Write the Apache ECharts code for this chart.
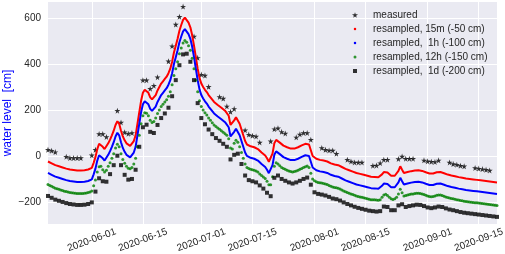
<!DOCTYPE html>
<html>
<head>
<meta charset="utf-8">
<script src="https://cdn.jsdelivr.net/npm/echarts/dist/echarts.min.js"></script>
<style>
  html, body { margin: 0; padding: 0; background: #fff; }
  #chart { width: 505px; height: 254px; }
</style>
</head>
<body>
<div id="chart"></div>
<script>
// water level, 12-hourly from 2020-05-20 00:00 (+50)
const level12h = [
  26, 22, 18, 14, 10, 7, 5, 2, 0, -3, -5, -7, -9, -10, -11, -12, -13, -13, -13, -13,
  -12, -11, -9, -7, -2, 20, 45, 80, 103, 105, 90, 80, 88, 105, 121, 140, 160, 185, 201, 190,
  160, 135, 118, 105, 97, 94, 100, 115, 140, 190, 240, 290, 325, 338, 336, 325, 305, 296, 300, 315,
  335, 350, 365, 375, 385, 395, 410, 430, 460, 500, 530, 560, 595, 620, 642, 652, 645, 630, 610, 575,
  530, 480, 430, 390, 365, 350, 338, 328, 315, 305, 295, 285, 278, 272, 266, 260, 253, 247, 240, 225,
  185, 180, 205, 218, 210, 190, 165, 140, 115, 100, 95, 92, 90, 88, 85, 80, 72, 65, 58, 52,
  40, 25, 25, 60, 105, 120, 115, 108, 100, 95, 92, 88, 85, 82, 80, 82, 85, 88, 92, 96,
  100, 103, 106, 100, 75, 50, 42, 38, 35, 33, 32, 30, 28, 26, 22, 18, 15, 13, 12, 10,
  6, 2, -2, -6, -9, -12, -15, -18, -21, -24, -26, -28, -30, -32, -34, -36, -38, -40, -40, -41,
  -42, -43, -40, -30, -20, -17, -22, -30, -36, -39, -36, -30, -15, 5, -10, -24, -22, -20, -18, -16,
  -15, -13, -12, -12, -13, -15, -18, -21, -24, -26, -27, -26, -24, -21, -20, -20, -22, -25, -28, -31,
  -33, -35, -36, -38, -40, -42, -44, -45, -47, -48, -49, -50, -51, -52, -53, -54, -55, -56, -57, -58,
  -59, -60, -61, -62, -63, -64, -65
];

// measured values (day number since 2020-05-20, level in cm)
const measuredDay = [0, 1, 2, 5, 6, 7, 8, 9, 12, 13, 14, 15, 16, 19, 20, 21, 22, 23, 26, 27, 28, 29, 30,
  33, 34, 35, 36, 37, 40, 41, 42, 43, 44, 47, 48, 49, 50, 51, 54, 55, 56, 57, 58, 61, 62, 63, 64, 65,
  68, 69, 70, 71, 72, 75, 76, 77, 78, 79, 82, 83, 84, 85, 86, 89, 90, 91, 92, 93, 96, 97, 98, 99, 100,
  103, 104, 105, 106, 107, 110, 111, 112, 113, 114, 117, 118, 119, 120, 121];
const measuredLevel = [27, 23, 17, -3, -9, -9, -9, -9, 3, 27, 96, 96, 83, 197, 146, 103, 97, 100, 330, 330, 293, 306, 343,
  412, 478, 572, 606, 650, 520, 427, 354, 350, 301, 257, 250, 216, 192, 205, 112, 93, 88, 85, 59, 64, 117, 121, 105, 98,
  81, 94, 100, 100, 71, 35, 27, 24, 24, 10, -16, -24, -28, -28, -28, -42, -41, -31, -16, -16, -13, -2, -12, -12, -12,
  -19, -23, -25, -26, -19, -28, -35, -38, -42, -45, -52, -55, -57, -60, -63];

const shift = [-50, -100, -150, -200];
const seriesNames = ['measured', 'resampled, 15m (-50 cm)', 'resampled,  1h (-100 cm)',
  'resampled, 12h (-150 cm)', 'resampled,  1d (-200 cm)'];
const xTicks = ['2020-06-01', '2020-06-15', '2020-07-01', '2020-07-15', '2020-08-01', '2020-08-15', '2020-09-01', '2020-09-15'];
const yTicks = [-200, 0, 200, 400, 600];

const t0 = Date.UTC(2020, 4, 20);
const HALF_DAY = 12 * 3600 * 1000;
const STAR = 'path://M50,0 L61,35 L98,35 L68,57 L79,91 L50,70 L21,91 L32,57 L2,35 L39,35 Z';
const txt = '#262626';
const font = '"Liberation Sans", Arial, sans-serif';

function shifted(k, step) {
  const out = [];
  for (let i = 0; i < level12h.length; i += step) {
    out.push([t0 + i * HALF_DAY, level12h[i] + shift[k]]);
  }
  return out;
}
const measured = measuredDay.map((d, i) => [t0 + d * 2 * HALF_DAY, measuredLevel[i]]);
const xTickTimes = xTicks.map(s => Date.parse(s));

// one legend per entry, so each marker keeps its own size
const legendIcons = [
  { icon: STAR, size: 6 },
  { icon: 'circle', size: 2.5 },
  { icon: 'circle', size: 2.5 },
  { icon: 'circle', size: 3 },
  { icon: 'rect', size: 4 }
];
const legends = seriesNames.map((name, i) => ({
  data: [{ name: name, icon: legendIcons[i].icon }],
  left: 355 - legendIcons[i].size / 2,
  top: 8 + 14 * i,
  padding: 0,
  itemWidth: legendIcons[i].size,
  itemHeight: legendIcons[i].size,
  selectedMode: false,
  textStyle: { fontSize: 10, color: txt, fontFamily: font, lineHeight: 14,
    padding: [0, 0, 0, 13 - legendIcons[i].size / 2] }
}));

const chart = echarts.init(document.getElementById('chart'), null, { renderer: 'canvas' });
chart.setOption({
  animation: false,
  backgroundColor: '#fff',
  textStyle: { fontFamily: font },
  grid: {
    left: 48, right: 8, top: 2, bottom: 30, outerBoundsMode: 'none',
    show: true, backgroundColor: '#EAEAF2', borderWidth: 0
  },
  legend: legends,
  xAxis: {
    type: 'value',
    min: t0,
    max: t0 + (level12h.length - 1) * HALF_DAY,
    axisLine: { show: false },
    axisTick: { show: false, customValues: xTickTimes },
    splitLine: { show: true, lineStyle: { color: '#fff', width: 1 } },
    axisLabel: {
      customValues: xTickTimes,
      rotate: 20, align: 'center', verticalAlign: 'middle', margin: 16,
      fontSize: 10, color: txt, fontFamily: font,
      formatter: v => new Date(v).toISOString().slice(0, 10)
    }
  },
  yAxis: {
    type: 'value',
    min: -296,
    max: 670,
    name: 'water level  [cm]',
    nameLocation: 'middle',
    nameGap: 34,
    nameMoveOverlap: false,
    nameTextStyle: { color: '#0000ff', fontSize: 12, fontFamily: font },
    axisLine: { show: false },
    axisTick: { show: false, customValues: yTicks },
    splitLine: { show: true, lineStyle: { color: '#fff', width: 1 } },
    axisLabel: {
      customValues: yTicks, margin: 7, fontSize: 10, color: txt, fontFamily: font,
      formatter: v => (v < 0 ? '\u2212' + (-v) : String(v))
    }
  },
  series: [
    { name: seriesNames[0], type: 'scatter', data: measured, symbol: STAR, symbolSize: 6,
      itemStyle: { color: '#000' }, z: 2 },
    { name: seriesNames[1], type: 'line', data: shifted(0, 1), showSymbol: false, symbol: 'none',
      lineStyle: { color: '#ff0000', width: 2 }, itemStyle: { color: '#ff0000' }, z: 3 },
    { name: seriesNames[2], type: 'line', data: shifted(1, 1), showSymbol: false, symbol: 'none',
      lineStyle: { color: '#0000ff', width: 2 }, itemStyle: { color: '#0000ff' }, z: 3 },
    { name: seriesNames[3], type: 'scatter', data: shifted(2, 1), symbol: 'circle', symbolSize: 3,
      itemStyle: { color: '#008000' }, z: 3 },
    { name: seriesNames[4], type: 'scatter', data: shifted(3, 2), symbol: 'rect', symbolSize: 4,
      itemStyle: { color: '#000' }, z: 3 }
  ]
});
</script>
</body>
</html>
